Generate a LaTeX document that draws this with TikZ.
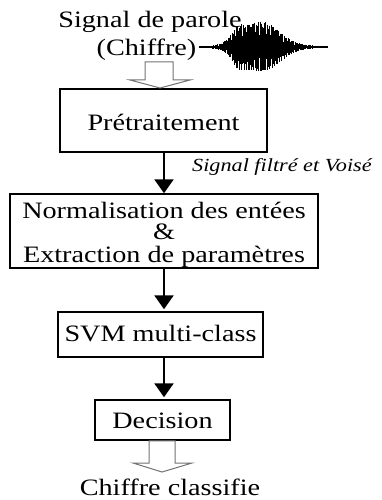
\documentclass[tikz,border=0pt]{standalone}
\usepackage{fontspec}
\setmainfont{Liberation Serif}[ItalicFont={Liberation Serif Italic}]
\usepackage{graphicx}
\usetikzlibrary{arrows.meta,calc}
\newcommand\hs[1]{\scalebox{1.2}[1]{#1}}
\tikzset{
  boxnode/.style={draw=black, line width=1.5pt, inner sep=0pt, fill=white,
     font=\fontsize{23.5}{20.5}\selectfont, text=black},
  plain/.style={inner sep=0pt, font=\fontsize{23.5}{20.5}\selectfont, text=black},
  flow/.style={line width=2.6pt, -{Triangle[width=19pt,length=14pt]}},
  hollow/.style={draw=black!55, line width=1pt, fill=white, line join=miter},
}
\begin{document}
\begin{tikzpicture}[x=1pt,y=-1pt]
\useasboundingbox (0,0) rectangle (381,500);
% spine
\coordinate (spine) at (164,0);
% boxes
\node[boxnode, minimum width=207pt, minimum height=63pt, text height=19pt, text depth=0pt]
  (pre) at (163.5,120.5) {\hs{Prétraitement}};
\node[boxnode, minimum width=308pt, minimum height=74pt, text height=0pt, text depth=26pt]
  (norm) at (164,231) {\begin{tabular}[t]{@{}c@{}}\hs{Normalisation des entées}\\ \hs{\&}\\ \hs{Extraction de paramètres}\end{tabular}};
\node[boxnode, minimum width=205pt, minimum height=45pt, text height=13pt, text depth=0pt]
  (svm) at (160.5,334.5) {\hs{SVM multi-class}};
\node[boxnode, minimum width=135pt, minimum height=40pt, text height=16pt, text depth=0pt]
  (dec) at (162.5,420) {\hs{Decision}};
% texts
\node[plain, anchor=base] (sig1) at (150,28) {\hs{Signal de parole}};
\node[plain, anchor=base] (sig2) at (146.5,56) {\hs{(Chiffre)}};
\node[plain, anchor=base] (out) at (170,495) {\hs{Chiffre classifie}};
\node[inner sep=0pt, anchor=base west, font=\fontsize{18.5}{20}\selectfont\itshape, text=black]
  (lab) at (192,171) {\hs{\textit{Signal filtré et Voisé}}};
% flow arrows
\draw[flow] (pre.south -| spine) -- (norm.north -| spine);
\draw[flow] (norm.south -| spine) -- ([yshift=2pt]svm.north -| spine);
\draw[flow] (svm.south -| spine) -- ([yshift=2pt]dec.north -| spine);
% hollow arrow in
\coordinate (t1) at (160,88);
\draw[hollow] ($(t1)+(-15,-26)$) -- ($(t1)+(13,-26)$) -- ($(t1)+(13,-8)$) -- ($(t1)+(30,-8)$)
  -- (t1) -- ($(t1)+(-30,-8)$) -- ($(t1)+(-15,-8)$) -- cycle;
% hollow arrow out
\coordinate (t2) at (162,472);
\draw[hollow] ($(dec.south)+(-13.5,0)$) -- ($(dec.south)+(12.5,0)$) -- ($(t2)+(13,-9)$) -- ($(t2)+(30,-9)$)
  -- (t2) -- ($(t2)+(-29,-9)$) -- ($(t2)+(-13,-9)$) -- cycle;
% waveform
\coordinate (w0) at (199,47);
\coordinate (w1) at (328,47);
\draw[line width=2pt] (w0) -- (w1);
\foreach \i in {0,...,125}{
  \pgfmathsetmacro{\xx}{213+\i*0.8}
  \pgfmathsetmacro{\env}{24*exp(-((\xx-261)/25)^2)+10*exp(-((\xx-238)/9)^2)+1.5}
  \pgfmathsetmacro{\ra}{0.4+0.6*abs(sin(\i*77.7))}
  \pgfmathsetmacro{\rb}{0.4+0.6*abs(sin(\i*61.3+40))}
  \draw[line width=1.1pt] (\xx,47-\env*\ra) -- (\xx,47+\env*\rb);
}
\end{tikzpicture}
\end{document}
